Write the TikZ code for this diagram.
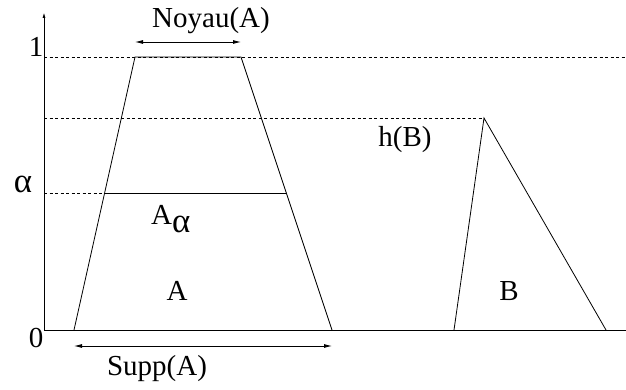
\documentclass[tikz,border=0pt]{standalone}
\usepackage{fontspec}
\setmainfont{Liberation Serif}
\usetikzlibrary{arrows.meta}
\begin{document}
\begin{tikzpicture}[x=1pt,y=-1pt,
  lbl/.style={font=\fontsize{29}{33}\selectfont, inner sep=0pt, anchor=base},
  thinline/.style={line width=0.8pt},
  dashline/.style={line width=0.6pt, dash pattern=on 3pt off 2.5pt},
  arr/.style={line width=0.8pt, {Latex[length=8pt,width=4pt]}-{Latex[length=8pt,width=4pt]}},
  axis/.style={line width=1pt}]
\useasboundingbox (0,0) rectangle (626,390);
% key points
\coordinate (O) at (44,330);
\coordinate (Ytop) at (44,12);
\coordinate (Xend) at (626,330);
\coordinate (A1) at (74,330);
\coordinate (A2) at (135,57);
\coordinate (A3) at (241,57);
\coordinate (A4) at (332,330);
\coordinate (B1) at (454,330);
\coordinate (B2) at (484,118);
\coordinate (B3) at (606,330);
\coordinate (Y1) at (44,57);
\coordinate (Y1end) at (626,57);
\coordinate (Yh) at (44,118);
\coordinate (Ya) at (44,193);
\coordinate (AL) at (105,193);
\coordinate (AR) at (287,193);
\coordinate (N1) at (135,42);
\coordinate (N2) at (241,42);
\coordinate (S1) at (74,346);
\coordinate (S2) at (332,346);
% axes
\draw[axis,-{Latex[length=6pt,width=3pt]}] (O) -- (Ytop);
\draw[axis] (O) -- (Xend);
% dashed levels
\draw[dashline] (Y1) -- (Y1end);
\draw[dashline] (Yh) -- (B2);
\draw[dashline] (Ya) -- (AL);
% shapes
\draw[thinline] (A1) -- (A2) -- (A3) -- (A4);
\draw[thinline] (AL) -- (AR);
\draw[thinline] (B1) -- (B2) -- (B3);
% arrows
\draw[arr] (N1) -- (N2);
\draw[arr] (S1) -- (S2);
% labels
\node[lbl] (noyau) at (211,28) {Noyau(A)};
\node[lbl] (supp) at (157,375) {Supp(A)};
\node[lbl] (one) at (36,57) {1};
\node[lbl] (alpha) at (23,193) {\scalebox{1.2}{α}};
\node[lbl] (zero) at (36,347) {0};
\node[lbl,anchor=base west] (aalpha) at (151,224) {A\raisebox{-8pt}{\scalebox{1.2}{α}}};
\node[lbl] (a) at (177,300) {A};
\node[lbl] (hb) at (405,147) {h(B)};
\node[lbl] (b) at (509,300) {B};
\end{tikzpicture}
\end{document}
